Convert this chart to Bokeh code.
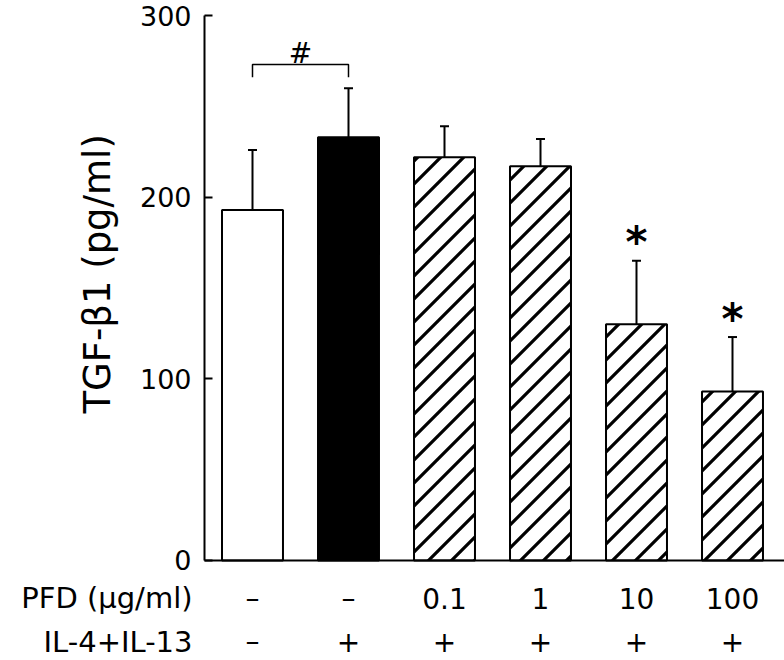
import numpy as np
from bokeh.plotting import figure
from bokeh.models import (ColumnDataSource, Range1d, FixedTicker, Whisker,
                          TeeHead, CanvasTexture)
from bokeh.core.properties import value
from bokeh.embed import file_html
from bokeh.resources import INLINE

# ---- data ----
groups = ["Control", "IL-4+IL-13", "PFD 0.1", "PFD 1", "PFD 10", "PFD 100"]
means = [193, 233, 222, 217, 130, 93]
errors = [33, 27, 17, 15, 35, 30]
pfd_labels = ["\u2013", "\u2013", "0.1", "1", "10", "100"]
il_labels = ["\u2013", "+", "+", "+", "+", "+"]
significance = ["", "", "", "", "*", "*"]
y_ticks = [0, 100, 200, 300]
row_titles = ["PFD (\u00b5g/ml)", "IL-4+IL-13"]
y_title = "TGF-\u03b21  (pg/ml)"

FONT = "DejaVu Sans"

xs = np.arange(len(groups)) + 0.5
uppers = [m + e for m, e in zip(means, errors)]
fills = ["white", "black", "white", "white", "white", "white"]
hatches = [" ", " ", "diag", "diag", "diag", "diag"]

src = ColumnDataSource(dict(x=xs, top=means, upper=uppers, fill=fills,
                            hatch=hatches, star=significance,
                            pfd=pfd_labels, il=il_labels))

X0, X1 = -2.125, 6.0417
p = figure(width=784, height=660, output_backend="svg", toolbar_location=None,
           x_range=Range1d(X0, X1), y_range=Range1d(-55.05, 308.26),
           x_axis_location=None, min_border_left=0, min_border_right=0,
           min_border_top=0, min_border_bottom=0)
p.outline_line_color = None
p.xgrid.visible = False
p.ygrid.visible = False

# 45-degree diagonal hatch tile (23 px period)
diag = CanvasTexture(repetition="repeat", code="""
const s = 23;
const cv = ctx.canvas;
if (cv != null) { cv.width = s; cv.height = s; }
ctx.clearRect(0, 0, s, s);
ctx.strokeStyle = "#000000";
ctx.lineWidth = 3.2;
ctx.beginPath();
for (const k of [-1, 0, 1]) {
  ctx.moveTo(-3 + k*s, s + 3);
  ctx.lineTo(s + 3 + k*s, -3);
}
ctx.stroke();
""")

# bars
p.vbar(x="x", top="top", bottom=0, width=0.635, source=src,
       fill_color="fill", line_color="black", line_width=2,
       hatch_pattern="hatch", hatch_color="black", hatch_scale=23,
       hatch_weight=3, hatch_extra={"diag": diag})

# error bars (upper only)
p.add_layout(Whisker(source=src, base="x", lower="top", upper="upper",
                     line_width=2, line_color="black", lower_head=None,
                     upper_head=TeeHead(size=9, line_width=2, line_color="black")))

# significance stars
p.text(x="x", y="upper", text="star", source=src, y_offset=-18,
       text_align="center", text_baseline="alphabetic",
       text_font=value(FONT), text_font_size="42px", text_font_style="bold",
       text_color="black")

# bracket and '#'
bx0, bx1 = xs[0], xs[1]
p.line(x=[bx0, bx0, bx1, bx1], y=[266, 273, 273, 266], line_color="black",
       line_width=1.5)
p.text(x=[(bx0 + bx1) / 2], y=[279], text=["#"], text_align="center",
       text_baseline="alphabetic", text_font=value(FONT),
       text_font_size="28px", text_color="black")

# x baseline from the y axis to the right edge
p.line(x=[0, X1], y=[0, 0], line_color="black", line_width=2)

# condition rows
row_y = [-20.9, -44.6]
p.text(x="x", y=row_y[0], text="pfd", source=src, text_align="center",
       text_baseline="middle", text_font=value(FONT), text_font_size="28px",
       text_color="black")
p.text(x="x", y=row_y[1], text="il", source=src, text_align="center",
       text_baseline="middle", text_font=value(FONT), text_font_size="28px",
       text_color="black")
p.text(x=[-0.125, -0.125], y=row_y, text=row_titles, text_align="right",
       text_baseline="middle", text_font=value(FONT), text_font_size="29px",
       text_color="black")

# y axis title (rotated text)
p.text(x=[-1.11], y=[161], text=[y_title], angle=np.pi / 2,
       text_align="center", text_baseline="middle", text_font=value(FONT),
       text_font_size="37px", text_color="black")

# y axis drawn at x = 0
ax = p.yaxis[0]
ax.fixed_location = 0
ax.ticker = FixedTicker(ticks=y_ticks)
ax.bounds = (0, 300)
ax.axis_line_width = 2
ax.axis_line_color = "black"
ax.major_tick_in = 8
ax.major_tick_out = 0
ax.major_tick_line_width = 2
ax.major_tick_line_color = "black"
ax.minor_tick_line_color = None
ax.major_label_standoff = 13
ax.major_label_text_font = FONT
ax.major_label_text_font_size = "27px"
ax.major_label_text_color = "black"

open("out.html", "w").write(file_html(p, INLINE))
